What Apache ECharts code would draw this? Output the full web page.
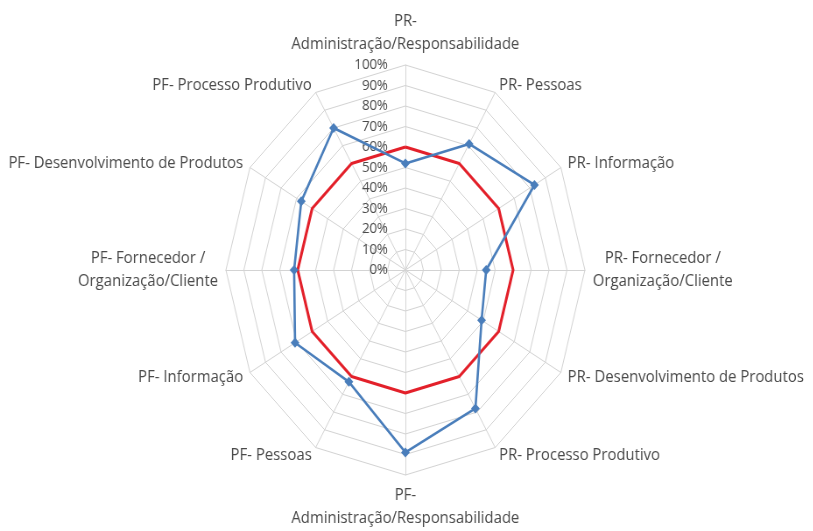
<!DOCTYPE html>
<html>
<head>
<meta charset="utf-8">
<script src="https://cdn.jsdelivr.net/npm/echarts@6/dist/echarts.min.js"></script>
<style>
  html, body { margin: 0; padding: 0; background: #ffffff; overflow: hidden; }
  #wrap { width: 813px; height: 531px; overflow: hidden; position: relative; }
  /* the radar is drawn wide and compressed horizontally into an ellipse */
  #chart { width: 929px; height: 531px; transform: scaleX(0.8756); transform-origin: 0 0; }
</style>
</head>
<body>
<div id="wrap"><div id="chart"></div></div>
<script>
// Dimensions, listed clockwise starting at the top
const categories = [
  'PR-\nAdministração/Responsabilidade',
  'PR- Pessoas',
  'PR- Informação',
  'PR- Fornecedor /\nOrganização/Cliente',
  'PR- Desenvolvimento de Produtos',
  'PR- Processo Produtivo',
  'PF-\nAdministração/Responsabilidade',
  'PF- Pessoas',
  'PF- Informação',
  'PF- Fornecedor /\nOrganização/Cliente',
  'PF- Desenvolvimento de Produtos',
  'PF- Processo Produtivo'
];
// Percent scores per dimension (same clockwise order)
const blueValues = [52, 71, 83, 45, 49, 78, 89, 63, 71, 62, 67, 80];
const redValues  = [60, 60, 60, 60, 60, 60, 60, 60, 60, 60, 60, 60];
// Radial scale
const axisMin = 0;
const axisMax = 100;
const axisSteps = 10;

const textColor = '#4a4a4a';
const textFont = 'Open Sans';

// ECharts lays radar axes out counter-clockwise, so reverse the order after the first one
function toCcw(arr) {
  return arr.map((_, i) => arr[(arr.length - i) % arr.length]);
}

const indicators = toCcw(categories).map((name, i) => {
  const ind = { name: name, min: axisMin, max: axisMax };
  if (i === 0) {
    ind.axisLabel = {
      show: true,
      formatter: '{value}%',
      color: textColor,
      fontSize: 15,
      fontFamily: textFont,
      margin: 20
    };
  }
  return ind;
});

const chart = echarts.init(document.getElementById('chart'), null, { renderer: 'canvas' });
chart.setOption({
  animation: false,
  backgroundColor: '#ffffff',
  radar: {
    center: [463, 270],
    radius: 205,
    startAngle: 90,
    splitNumber: axisSteps,
    shape: 'polygon',
    nameGap: 9,
    indicator: indicators,
    axisName: {
      color: textColor,
      fontSize: 17,
      fontFamily: textFont,
      lineHeight: 23,
      formatter: function (name) {
        return name.split('\n').map(s => '{c|' + s + '}').join('\n');
      },
      rich: {
        c: { align: 'center', color: textColor, fontSize: 17, fontFamily: textFont, lineHeight: 23 }
      }
    },
    axisLine: { lineStyle: { color: '#D3D3D3', width: 1 } },
    splitLine: { lineStyle: { color: '#D3D3D3', width: 1 } },
    splitArea: { show: false },
    axisTick: { show: false },
    axisLabel: { show: false }
  },
  series: [{
    type: 'radar',
    symbol: 'diamond',
    symbolSize: 10,
    data: [
      {
        value: toCcw(redValues),
        symbol: 'none',
        lineStyle: { color: '#E3202A', width: 3 },
        itemStyle: { color: '#E3202A' }
      },
      {
        value: toCcw(blueValues),
        lineStyle: { color: '#4A7EBB', width: 2.6 },
        itemStyle: { color: '#4A7EBB' }
      }
    ]
  }]
});
</script>
</body>
</html>
